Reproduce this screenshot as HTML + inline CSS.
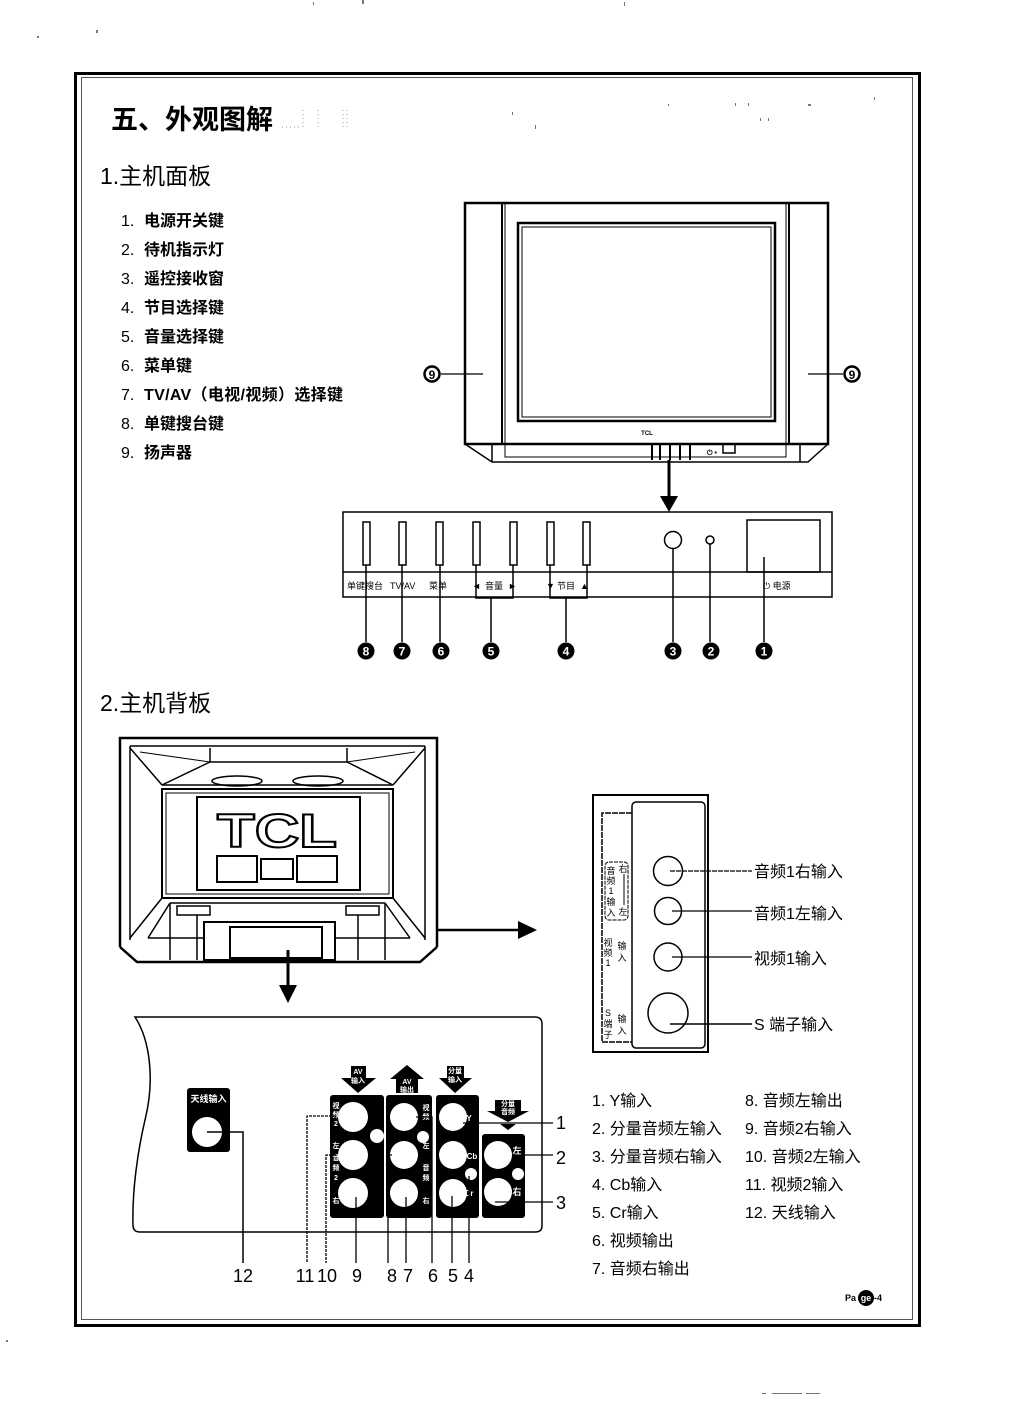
<!DOCTYPE html>
<html><head><meta charset="utf-8">
<style>
html,body{margin:0;padding:0;background:#fff;}
svg{display:block;}
text{font-family:"Liberation Sans","Noto Sans CJK SC",sans-serif;}
</style></head><body>
<svg width="1022" height="1404" viewBox="0 0 1022 1404" xmlns="http://www.w3.org/2000/svg">
<rect width="1022" height="1404" fill="#fff"/>

<!-- stray specks -->
<g fill="#777">
<rect x="37" y="36" width="2" height="2"/><rect x="96" y="30" width="2" height="3"/>
<rect x="313" y="2" width="1" height="3"/><rect x="362" y="0" width="2" height="4"/><rect x="624" y="2" width="1" height="4"/>
<rect x="6" y="1340" width="2" height="2"/>
<rect x="762" y="1393" width="4" height="1"/><rect x="772" y="1393" width="30" height="1"/><rect x="806" y="1393" width="14" height="1"/>
<rect x="668" y="104" width="1" height="2"/><rect x="735" y="103" width="1" height="3"/><rect x="748" y="103" width="1" height="3"/>
<rect x="760" y="118" width="1" height="3"/><rect x="768" y="118" width="1" height="3"/><rect x="808" y="104" width="3" height="2"/>
<rect x="535" y="125" width="1" height="4"/><rect x="512" y="112" width="1" height="3"/><rect x="874" y="97" width="1" height="3"/>
</g>

<!-- page frame -->
<rect x="75.5" y="73.5" width="844" height="1252" fill="none" stroke="#000" stroke-width="3"/>
<rect x="81.5" y="77.5" width="831" height="1242" fill="none" stroke="#555" stroke-width="1"/>

<!-- title -->
<text x="111" y="129" font-size="27" font-weight="bold">五、外观图解</text>
<g stroke="#999" stroke-width="1" stroke-dasharray="1,3">
<line x1="303" y1="110" x2="303" y2="128"/><line x1="318" y1="110" x2="318" y2="128"/>
<line x1="343" y1="110" x2="343" y2="128"/><line x1="347" y1="110" x2="347" y2="128"/>
<line x1="282" y1="127" x2="300" y2="127"/>
</g>

<!-- section 1 -->
<text x="100" y="184" font-size="23">1.主机面板</text>
<g font-size="16">
<text x="121" y="226">1. <tspan x="144" font-weight="bold">电源开关键</tspan></text>
<text x="121" y="255">2. <tspan x="144" font-weight="bold">待机指示灯</tspan></text>
<text x="121" y="284">3. <tspan x="144" font-weight="bold">遥控接收窗</tspan></text>
<text x="121" y="313">4. <tspan x="144" font-weight="bold">节目选择键</tspan></text>
<text x="121" y="342">5. <tspan x="144" font-weight="bold">音量选择键</tspan></text>
<text x="121" y="371">6. <tspan x="144" font-weight="bold">菜单键</tspan></text>
<text x="121" y="400">7. <tspan x="144" font-weight="bold" textLength="199" lengthAdjust="spacing">TV/AV（电视/视频）选择键</tspan></text>
<text x="121" y="429">8. <tspan x="144" font-weight="bold">单键搜台键</tspan></text>
<text x="121" y="458">9. <tspan x="144" font-weight="bold">扬声器</tspan></text>
</g>

<!-- TV front -->
<g stroke="#000" fill="none">
<rect x="465" y="203" width="363" height="241" stroke-width="2.5"/>
<line x1="502" y1="203" x2="502" y2="444" stroke-width="2"/>
<line x1="505" y1="203" x2="505" y2="444" stroke-width="1"/>
<line x1="789" y1="203" x2="789" y2="444" stroke-width="2"/>
<line x1="786" y1="203" x2="786" y2="444" stroke-width="1"/>
<rect x="518" y="223" width="257" height="198" stroke-width="2.5"/>
<rect x="522" y="227" width="249" height="190" stroke-width="1"/>
<path d="M465,444 L492,462 L808,462 L828,444" stroke-width="1.5"/>
<line x1="492" y1="444" x2="492" y2="462" stroke-width="1.5"/>
<line x1="800" y1="444" x2="800" y2="462" stroke-width="1.5"/>
<rect x="505" y="444" width="281" height="13" stroke-width="1"/>
<g stroke-width="2"><line x1="652" y1="445" x2="652" y2="460"/><line x1="660" y1="445" x2="660" y2="460"/><line x1="670" y1="445" x2="670" y2="460"/><line x1="680" y1="445" x2="680" y2="460"/><line x1="690" y1="445" x2="690" y2="460"/></g>
<rect x="723" y="444" width="12" height="9" stroke-width="1.5"/>
<line x1="441" y1="374" x2="483" y2="374" stroke-width="1.2"/>
<line x1="808" y1="374" x2="843" y2="374" stroke-width="1.2"/>
<circle cx="432" cy="374" r="7.5" stroke-width="2.5"/>
<circle cx="852" cy="374" r="7.5" stroke-width="2.5"/>
</g>
<text x="707" y="455" font-size="7" font-weight="bold">⏻ •</text>
<text x="647" y="435" font-size="6" font-weight="bold" text-anchor="middle">TCL</text>
<text x="432" y="379" font-size="12" font-weight="bold" text-anchor="middle">9</text>
<text x="852" y="379" font-size="12" font-weight="bold" text-anchor="middle">9</text>
<line x1="669" y1="460" x2="669" y2="498" stroke="#000" stroke-width="3"/>
<polygon points="660,496 678,496 669,512" fill="#000"/>

<!-- front panel -->
<g stroke="#000" fill="none" stroke-width="1.5">
<path d="M343,512 H832 V597 H343 Z"/>
<line x1="343" y1="572" x2="832" y2="572"/>
<rect x="363" y="522" width="7" height="43"/>
<rect x="399" y="522" width="7" height="43"/>
<rect x="436" y="522" width="7" height="43"/>
<rect x="473" y="522" width="7" height="43"/>
<rect x="510" y="522" width="7" height="43"/>
<rect x="547" y="522" width="7" height="43"/>
<rect x="583" y="522" width="7" height="43"/>
<circle cx="673" cy="540" r="8.5"/>
<circle cx="710" cy="540" r="4"/>
<rect x="747" y="520" width="73" height="52"/>
<path d="M476,565 V598 H513 V565"/>
<path d="M550,565 V598 H587 V565"/>
<line x1="491" y1="598" x2="491" y2="642"/>
<line x1="566" y1="598" x2="566" y2="642"/>
<line x1="366" y1="565" x2="366" y2="642"/>
<line x1="402" y1="565" x2="402" y2="642"/>
<line x1="440" y1="565" x2="440" y2="642"/>
<line x1="673" y1="549" x2="673" y2="642"/>
<line x1="710" y1="544" x2="710" y2="642"/>
<line x1="764" y1="557" x2="764" y2="642"/>
</g>
<g font-size="9">
<text x="347" y="589">单键搜台</text>
<text x="390" y="589">TV/AV</text>
<text x="429" y="589">菜单</text>
<text x="472" y="589">◄</text><text x="485" y="589">音量</text><text x="508" y="589">►</text>
<text x="546" y="589">▼</text><text x="557" y="589">节目</text><text x="580" y="589">▲</text>
<text x="763" y="589">⏻ 电源</text>
</g>
<g fill="#000">
<circle cx="366" cy="651" r="8.5"/><circle cx="402" cy="651" r="8.5"/><circle cx="441" cy="651" r="8.5"/>
<circle cx="491" cy="651" r="8.5"/><circle cx="566" cy="651" r="8.5"/><circle cx="673" cy="651" r="8.5"/>
<circle cx="711" cy="651" r="8.5"/><circle cx="764" cy="651" r="8.5"/>
</g>
<g fill="#fff" font-size="12" font-weight="bold" text-anchor="middle">
<text x="366" y="655.5">8</text><text x="402" y="655.5">7</text><text x="441" y="655.5">6</text>
<text x="491" y="655.5">5</text><text x="566" y="655.5">4</text><text x="673" y="655.5">3</text>
<text x="711" y="655.5">2</text><text x="764" y="655.5">1</text>
</g>

<!-- section 2 -->
<text x="100" y="711" font-size="23">2.主机背板</text>

<!-- back TV -->
<g stroke="#000" fill="none" stroke-width="1.5">
<path d="M120,947 V738 H437 V947" stroke-width="2.5"/>
<line x1="130" y1="746" x2="130" y2="940"/>
<line x1="425" y1="746" x2="425" y2="940"/>
<line x1="130" y1="746" x2="425" y2="746"/>
<path d="M130,748 L162,785 M425,748 L393,785"/>
<path d="M210,748 V762 H347 V748"/>
<path d="M210,762 L162,785 M347,762 L393,785"/>
<path d="M140,752 L210,762 M415,752 L347,762" stroke-width="1"/>
<ellipse cx="237" cy="781" rx="25" ry="5"/>
<ellipse cx="318" cy="781" rx="25" ry="5"/>
<line x1="162" y1="785" x2="393" y2="785"/>
<rect x="162" y="789" width="231" height="109" stroke-width="2"/>
<rect x="166" y="793" width="223" height="101" stroke-width="1"/>
<rect x="197" y="797" width="163" height="93" stroke-width="2"/>
<rect x="217" y="856" width="40" height="26" stroke-width="2"/>
<rect x="261" y="859" width="32" height="20" stroke-width="2"/>
<rect x="297" y="856" width="40" height="26" stroke-width="2"/>
<line x1="170" y1="903" x2="385" y2="903"/>
<path d="M162,898 L130,938 M393,898 L425,938"/>
<path d="M170,903 L148,938 M385,903 L410,938"/>
<path d="M120,947 L137,962 H420 L437,947" stroke-width="2.5"/>
<rect x="177" y="906" width="33" height="9"/>
<rect x="346" y="906" width="33" height="9"/>
<line x1="170" y1="903" x2="170" y2="960"/><line x1="197" y1="915" x2="197" y2="960"/>
<line x1="358" y1="915" x2="358" y2="960"/><line x1="385" y1="903" x2="385" y2="960"/>
<line x1="148" y1="938" x2="204" y2="938"/><line x1="335" y1="938" x2="410" y2="938"/>
<rect x="204" y="922" width="131" height="38" stroke-width="2"/>
<rect x="230" y="927" width="92" height="31" stroke-width="2"/>
</g>
<text x="217" y="847" font-size="47" font-weight="bold" fill="#fff" stroke="#000" stroke-width="2" textLength="120" lengthAdjust="spacingAndGlyphs">TCL</text>
<line x1="437" y1="930" x2="522" y2="930" stroke="#000" stroke-width="2.5"/>
<polygon points="518,921 537,930 518,939" fill="#000"/>
<line x1="288" y1="950" x2="288" y2="988" stroke="#000" stroke-width="3"/>
<polygon points="279,985 297,985 288,1003" fill="#000"/>

<!-- side panel -->
<g stroke="#000" fill="none">
<rect x="593" y="795" width="115" height="257" stroke-width="2"/>
<rect x="632" y="802" width="73" height="246" rx="4" stroke-width="1.5"/>
<path d="M632,813 H602 V1042 H632" stroke-width="1.5" stroke-dasharray="6,1"/>
<rect x="605" y="862" width="23" height="58" rx="4" stroke-width="1" stroke-dasharray="4,1"/>
<line x1="624" y1="874" x2="624" y2="905" stroke-width="1"/>
<circle cx="668" cy="871" r="14.5" stroke-width="1.5"/>
<circle cx="668" cy="911" r="13.5" stroke-width="1.5"/>
<circle cx="668" cy="957" r="14" stroke-width="1.5"/>
<circle cx="668" cy="1013" r="20" stroke-width="1.5"/>
<line x1="670" y1="871" x2="752" y2="871" stroke-width="1.3" stroke-dasharray="5,1"/>
<line x1="672" y1="911" x2="752" y2="911" stroke-width="1.3"/>
<line x1="672" y1="957" x2="752" y2="957" stroke-width="1.3"/>
<line x1="670" y1="1024" x2="752" y2="1024" stroke-width="1.5"/>
</g>
<g font-size="9" text-anchor="middle">
<text x="611" y="874">音</text><text x="611" y="884">频</text><text x="611" y="894">1</text><text x="611" y="905">输</text><text x="611" y="916">入</text>
<text x="623" y="872">右</text><text x="623" y="915">左</text>
<text x="608" y="946">视</text><text x="608" y="956">频</text><text x="608" y="966">1</text>
<text x="622" y="949">输</text><text x="622" y="961">入</text>
<text x="608" y="1016">S</text><text x="608" y="1027">端</text><text x="608" y="1038">子</text>
<text x="622" y="1022">输</text><text x="622" y="1034">入</text>
</g>
<g font-size="16">
<text x="754" y="877">音频1右输入</text>
<text x="754" y="919">音频1左输入</text>
<text x="754" y="964">视频1输入</text>
<text x="754" y="1030">S 端子输入</text>
</g>

<!-- bottom panel -->
<path d="M135,1017 H535 Q542,1017 542,1024 V1226 Q542,1232 535,1232 H140 Q133,1232 133,1225 C132,1190 138,1150 145,1120 C155,1080 150,1040 135,1017 Z" fill="none" stroke="#000" stroke-width="1.5"/>
<!-- antenna -->
<rect x="187" y="1088" width="43" height="64" rx="3" fill="#000"/>
<text x="208.5" y="1102" font-size="9" font-weight="bold" fill="#fff" text-anchor="middle">天线输入</text>
<circle cx="207" cy="1132" r="15" fill="#fff"/>
<path d="M207,1132 H243 V1263" fill="none" stroke="#000" stroke-width="1.5"/>
<!-- blocks -->
<g fill="#000">
<rect x="330" y="1095" width="54" height="123" rx="3"/>
<rect x="386" y="1095" width="46" height="123" rx="3"/>
<rect x="436" y="1095" width="43" height="123" rx="3"/>
<rect x="482" y="1134" width="43" height="84" rx="3"/>
<polygon points="351,1066 366,1066 366,1078 376,1078 358,1093 341,1078 351,1078"/>
<polygon points="407,1065 424,1079 418,1079 418,1093 396,1093 396,1079 390,1079"/>
<polygon points="447,1066 464,1066 464,1078 472,1078 455,1093 439,1078 447,1078"/>
<polygon points="495,1100 521,1100 521,1111 529,1111 508,1122 487,1111 495,1111"/>
<polygon points="500,1124 516,1124 508,1130"/>
</g>
<g fill="#fff">
<circle cx="353" cy="1117" r="15"/><circle cx="353" cy="1155" r="15"/><circle cx="353" cy="1193" r="15"/>
<circle cx="377" cy="1136" r="7"/>
<circle cx="404" cy="1117" r="14"/><circle cx="404" cy="1155" r="14"/><circle cx="404" cy="1193" r="14"/>
<circle cx="423" cy="1137" r="6"/>
<circle cx="453" cy="1117" r="14"/><circle cx="453" cy="1155" r="14"/><circle cx="453" cy="1193" r="14"/>
<circle cx="471" cy="1174" r="6"/>
<circle cx="498" cy="1155" r="14"/><circle cx="498" cy="1192" r="14"/>
<circle cx="518" cy="1174" r="6"/>
</g>
<g fill="#fff" font-size="7" font-weight="bold" text-anchor="middle">
<text x="358" y="1074">AV</text><text x="358" y="1083">输入</text>
<text x="407" y="1084">AV</text><text x="407" y="1092">输出</text>
<text x="455" y="1073">分量</text><text x="455" y="1082">输入</text>
<text x="508" y="1106">分量</text><text x="508" y="1114">音频</text>
<text x="336" y="1108">视</text><text x="336" y="1117">频</text><text x="336" y="1126">2</text>
<text x="336" y="1148">左</text><text x="336" y="1160">音</text><text x="336" y="1170">频</text><text x="336" y="1180">2</text><text x="336" y="1203">右</text>
<text x="426" y="1110">视</text><text x="426" y="1119">频</text>
<text x="426" y="1148">左</text><text x="426" y="1170">音</text><text x="426" y="1180">频</text><text x="426" y="1203">右</text>
<text x="469" y="1121" font-size="8">Y</text><text x="472" y="1159" font-size="8">Cb</text><text x="469" y="1196" font-size="8">Cr</text>
<text x="517" y="1154" font-size="9">左</text><text x="517" y="1195" font-size="9">右</text>
</g>
<!-- leaders -->
<g fill="none" stroke="#000" stroke-width="1.3">
<path d="M336,1116 H307 V1263" stroke-dasharray="3,1"/>
<path d="M336,1155 H326 V1263" stroke-dasharray="3,1"/>
<path d="M356,1197 V1263"/>
<path d="M392,1155 H388 V1263"/>
<path d="M406,1197 V1263"/>
<path d="M416,1117 H432 V1263"/>
<path d="M452,1196 V1263"/>
<path d="M469,1176 V1263"/>
<path d="M463,1123 H553"/>
<path d="M513,1155 H553"/>
<path d="M495,1202 H553"/>
</g>
<g font-size="18" text-anchor="middle">
<text x="243" y="1282">12</text><text x="305" y="1282">11</text><text x="327" y="1282">10</text>
<text x="357" y="1282">9</text><text x="392" y="1282">8</text><text x="408" y="1282">7</text>
<text x="433" y="1282">6</text><text x="453" y="1282">5</text><text x="469" y="1282">4</text>
<text x="561" y="1129">1</text><text x="561" y="1164">2</text><text x="561" y="1209">3</text>
</g>

<!-- legend -->
<g font-size="16">
<text x="592" y="1106">1. Y输入</text>
<text x="592" y="1134">2. 分量音频左输入</text>
<text x="592" y="1162">3. 分量音频右输入</text>
<text x="592" y="1190">4. Cb输入</text>
<text x="592" y="1218">5. Cr输入</text>
<text x="592" y="1246">6. 视频输出</text>
<text x="592" y="1274">7. 音频右输出</text>
<text x="745" y="1106">8. 音频左输出</text>
<text x="745" y="1134">9. 音频2右输入</text>
<text x="745" y="1162">10. 音频2左输入</text>
<text x="745" y="1190">11. 视频2输入</text>
<text x="745" y="1218">12. 天线输入</text>
</g>

<!-- page marker -->
<circle cx="866" cy="1298" r="8" fill="#000"/>
<text x="845" y="1301" font-size="9" font-weight="bold">Pa</text>
<text x="866" y="1301" font-size="9" font-weight="bold" fill="#fff" text-anchor="middle">ge</text>
<text x="874" y="1301" font-size="9" font-weight="bold">-4</text>
</svg>
</body></html>
